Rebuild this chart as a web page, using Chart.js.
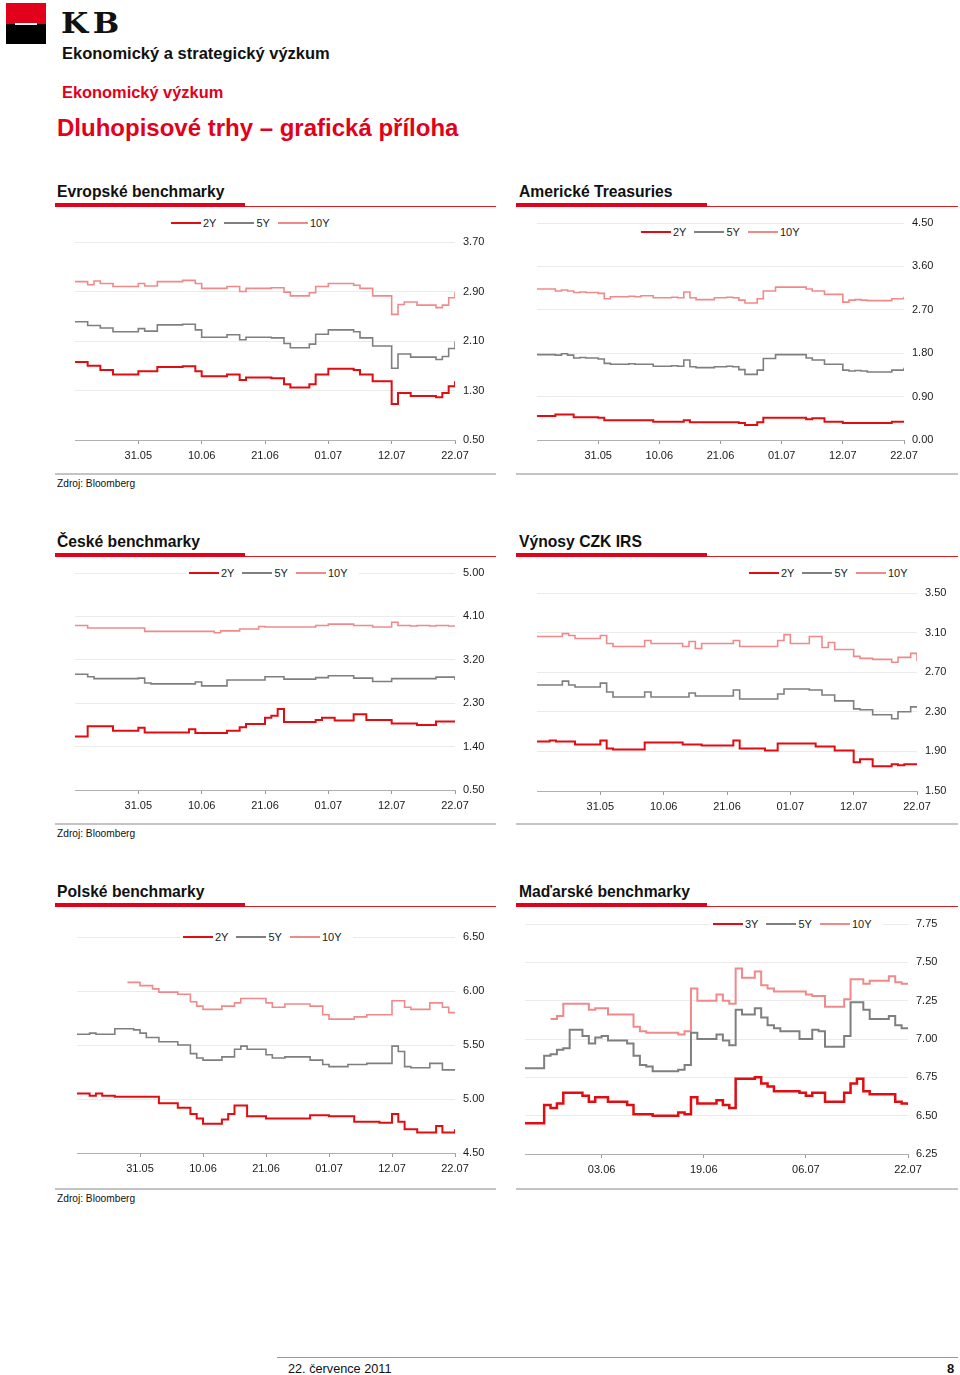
<!DOCTYPE html>
<html>
<head>
<meta charset="utf-8">
<script src="https://cdn.jsdelivr.net/npm/chart.js@4.4.0/dist/chart.umd.min.js"></script>
<style>
  body { margin: 0; width: 960px; height: 1375px; position: relative; background: #fff;
         font-family: "Liberation Sans", Arial, sans-serif; color: #111; overflow: hidden; }
  .abs { position: absolute; line-height: 1; white-space: nowrap; }
  .title { font-size: 15.7px; font-weight: bold; }
  .src { font-size: 10.2px; }
  .bar { position: absolute; }
  canvas { position: absolute; }
  .legend { position: absolute; display: flex; align-items: center; height: 14px; background: #fff;
            padding: 0 3px; font-size: 11px; line-height: 1; color: #222; }
  .legend .sw { display: inline-block; width: 30px; height: 2px; margin-right: 2px; }
  .legend .lt { margin-right: 8px; }
</style>
</head>
<body>

<!-- hlavička -->
<div class="bar" style="left:6px;top:3px;width:40px;height:21px;background:#e2001a"></div>
<div class="bar" style="left:6px;top:24px;width:40px;height:20px;background:#000"></div>
<div class="bar" style="left:15px;top:23px;width:22px;height:2px;background:#fff"></div>
<div class="abs" style="left:61px;top:10px;font-family:'DejaVu Serif',serif;font-weight:bold;font-size:28px;letter-spacing:4px;color:#111;transform:scaleX(1.12);transform-origin:0 0">KB</div>
<div class="abs" style="left:62px;top:45px;font-size:16.5px;font-weight:bold">Ekonomický a strategický výzkum</div>
<div class="abs" style="left:62px;top:84px;font-size:16.4px;font-weight:bold;color:#e2001a">Ekonomický výzkum</div>
<div class="abs" style="left:57px;top:116px;font-size:24px;font-weight:bold;color:#e2001a">Dluhopisové trhy – grafická příloha</div>

<!-- nadpisy panelů -->
<div class="abs title" style="left:57px;top:184px">Evropské benchmarky</div>
<div class="abs title" style="left:519px;top:184px">Americké Treasuries</div>
<div class="abs title" style="left:57px;top:534px">České benchmarky</div>
<div class="abs title" style="left:519px;top:534px">Výnosy CZK IRS</div>
<div class="abs title" style="left:57px;top:884px">Polské benchmarky</div>
<div class="abs title" style="left:519px;top:884px">Maďarské benchmarky</div>

<div class="bar" style="left:55px;top:206px;width:441px;height:1px;background:#d42020"></div>
<div class="bar" style="left:55px;top:203px;width:190px;height:4px;background:#e2001a"></div>
<div class="bar" style="left:516px;top:206px;width:442px;height:1px;background:#d42020"></div>
<div class="bar" style="left:516px;top:203px;width:191px;height:4px;background:#e2001a"></div>

<div class="bar" style="left:55px;top:556px;width:441px;height:1px;background:#d42020"></div>
<div class="bar" style="left:55px;top:553px;width:190px;height:4px;background:#e2001a"></div>
<div class="bar" style="left:516px;top:556px;width:442px;height:1px;background:#d42020"></div>
<div class="bar" style="left:516px;top:553px;width:191px;height:4px;background:#e2001a"></div>

<div class="bar" style="left:55px;top:906px;width:441px;height:1px;background:#d42020"></div>
<div class="bar" style="left:55px;top:903px;width:190px;height:4px;background:#e2001a"></div>
<div class="bar" style="left:516px;top:906px;width:442px;height:1px;background:#d42020"></div>
<div class="bar" style="left:516px;top:903px;width:191px;height:4px;background:#e2001a"></div>

<div class="bar" style="left:55px;top:473px;width:441px;height:2px;background:#c4c4c4"></div>
<div class="bar" style="left:516px;top:473px;width:442px;height:2px;background:#c4c4c4"></div>
<div class="bar" style="left:55px;top:823px;width:441px;height:2px;background:#c4c4c4"></div>
<div class="bar" style="left:516px;top:823px;width:442px;height:2px;background:#c4c4c4"></div>
<div class="bar" style="left:55px;top:1188px;width:441px;height:2px;background:#c4c4c4"></div>
<div class="bar" style="left:516px;top:1188px;width:442px;height:2px;background:#c4c4c4"></div>

<div class="abs src" style="left:57px;top:479px">Zdroj: Bloomberg</div>
<div class="abs src" style="left:57px;top:829px">Zdroj: Bloomberg</div>
<div class="abs src" style="left:57px;top:1194px">Zdroj: Bloomberg</div>

<canvas id="euChart"></canvas>
<canvas id="usChart"></canvas>
<canvas id="czChart"></canvas>
<canvas id="irsChart"></canvas>
<canvas id="plChart"></canvas>
<canvas id="huChart"></canvas>

<!-- patička -->
<div class="bar" style="left:277px;top:1357px;width:681px;height:1px;background:#999"></div>
<div class="abs" style="left:288px;top:1363px;font-size:12.7px">22. července 2011</div>
<div class="abs" style="left:947px;top:1362px;font-size:13px;font-weight:bold">8</div>

<script>
// ---------- data (odečteno z grafů) ----------
const dateLabels = ['31.05', '10.06', '21.06', '01.07', '12.07', '22.07'];
const dateTicks = [10, 20, 30, 40, 50, 60];
const huDateLabels = ['03.06', '19.06', '06.07', '22.07'];
const huDateTicks = [12, 28, 44, 60];

const seriesNames = ['2Y', '5Y', '10Y'];
const huSeriesNames = ['3Y', '5Y', '10Y'];

// Evropské benchmarky
const euYTicks = [0.50, 1.30, 2.10, 2.90, 3.70];
const eu2Y = [1.76,1.76,1.70,1.70,1.63,1.63,1.56,1.56,1.56,1.56,
  1.61,1.61,1.61,1.68,1.68,1.68,1.68,1.69,1.69,1.61,
  1.53,1.53,1.53,1.53,1.56,1.56,1.47,1.51,1.51,1.51,
  1.51,1.50,1.50,1.40,1.35,1.35,1.35,1.40,1.56,1.56,
  1.65,1.65,1.65,1.65,1.63,1.56,1.56,1.45,1.45,1.45,
  1.08,1.26,1.26,1.21,1.21,1.21,1.21,1.19,1.26,1.37,
  1.45];
const eu5Y = [2.41,2.41,2.35,2.35,2.31,2.31,2.25,2.25,2.25,2.25,
  2.30,2.26,2.26,2.36,2.36,2.36,2.36,2.37,2.37,2.28,
  2.16,2.16,2.16,2.16,2.20,2.20,2.12,2.16,2.16,2.16,
  2.16,2.15,2.15,2.06,1.99,1.99,1.99,2.05,2.21,2.21,
  2.28,2.28,2.28,2.28,2.25,2.15,2.15,2.02,2.02,2.02,
  1.66,1.89,1.89,1.84,1.84,1.84,1.84,1.80,1.85,1.98,
  2.09];
const eu10Y = [3.06,3.06,3.01,3.07,3.03,3.03,2.98,2.98,2.98,2.98,
  3.03,2.99,2.99,3.06,3.06,3.06,3.06,3.08,3.08,3.03,
  2.95,2.95,2.95,2.95,2.98,2.98,2.90,2.95,2.95,2.95,
  2.95,2.96,2.96,2.89,2.83,2.83,2.83,2.88,2.98,2.98,
  3.03,3.03,3.03,3.03,3.00,2.95,2.95,2.83,2.83,2.83,
  2.53,2.69,2.73,2.73,2.68,2.68,2.68,2.64,2.68,2.80,
  2.89];

// Americké Treasuries
const usYTicks = [0.00, 0.90, 1.80, 2.70, 3.60, 4.50];
const us2Y = [0.50,0.50,0.50,0.53,0.53,0.53,0.47,0.47,0.47,0.47,
  0.46,0.41,0.41,0.41,0.41,0.41,0.41,0.41,0.41,0.38,
  0.38,0.38,0.38,0.38,0.41,0.37,0.37,0.37,0.37,0.37,
  0.37,0.37,0.37,0.35,0.31,0.31,0.37,0.46,0.46,0.46,
  0.46,0.46,0.46,0.46,0.43,0.45,0.45,0.38,0.38,0.38,
  0.35,0.35,0.35,0.35,0.35,0.35,0.35,0.35,0.38,0.38,
  0.38];
const us5Y = [1.77,1.77,1.77,1.76,1.79,1.76,1.70,1.71,1.70,1.70,
  1.68,1.59,1.57,1.57,1.57,1.58,1.57,1.57,1.57,1.53,
  1.53,1.53,1.54,1.53,1.66,1.52,1.50,1.50,1.50,1.52,
  1.52,1.53,1.52,1.46,1.36,1.36,1.45,1.69,1.69,1.77,
  1.77,1.77,1.77,1.77,1.70,1.66,1.66,1.57,1.57,1.57,
  1.45,1.43,1.44,1.43,1.41,1.41,1.41,1.41,1.45,1.45,
  1.50];
const us10Y = [3.13,3.13,3.13,3.09,3.11,3.09,3.06,3.07,3.06,3.06,
  3.04,2.93,2.97,2.97,2.97,2.98,2.97,2.99,2.99,2.95,
  2.95,2.95,2.96,2.95,3.07,2.95,2.91,2.91,2.91,2.95,
  2.95,2.96,2.95,2.90,2.84,2.84,2.93,3.09,3.09,3.17,
  3.17,3.17,3.17,3.17,3.13,3.09,3.09,3.02,3.02,3.02,
  2.86,2.90,2.91,2.90,2.89,2.89,2.89,2.89,2.93,2.93,
  2.97];

// České benchmarky
const czYTicks = [0.50, 1.40, 2.30, 3.20, 4.10, 5.00];
const cz2Y = [1.61,1.61,1.82,1.82,1.82,1.82,1.73,1.73,1.73,1.73,
  1.79,1.69,1.69,1.69,1.69,1.69,1.69,1.69,1.76,1.68,
  1.68,1.68,1.68,1.68,1.73,1.73,1.80,1.87,1.87,1.87,
  2.00,2.04,2.18,1.91,1.91,1.91,1.91,1.91,1.95,2.00,
  2.00,1.94,1.94,1.94,2.07,2.07,1.95,1.95,1.95,1.95,
  1.88,1.88,1.88,1.88,1.85,1.85,1.85,1.92,1.92,1.92,
  1.92];
const cz5Y = [2.90,2.90,2.85,2.81,2.81,2.81,2.81,2.81,2.81,2.81,
  2.82,2.72,2.70,2.70,2.70,2.70,2.70,2.70,2.70,2.74,
  2.66,2.66,2.66,2.66,2.78,2.78,2.78,2.78,2.78,2.78,
  2.85,2.85,2.85,2.80,2.80,2.80,2.80,2.80,2.83,2.83,
  2.87,2.87,2.87,2.87,2.82,2.82,2.82,2.75,2.75,2.75,
  2.81,2.81,2.81,2.81,2.81,2.81,2.81,2.84,2.84,2.84,
  2.78];
const cz10Y = [3.91,3.91,3.86,3.86,3.86,3.86,3.86,3.86,3.86,3.86,
  3.86,3.79,3.79,3.79,3.79,3.79,3.79,3.79,3.79,3.79,
  3.79,3.79,3.76,3.80,3.80,3.80,3.84,3.84,3.84,3.89,
  3.88,3.88,3.88,3.88,3.88,3.88,3.88,3.88,3.91,3.91,
  3.94,3.94,3.94,3.94,3.91,3.91,3.91,3.88,3.88,3.88,
  3.98,3.91,3.91,3.90,3.91,3.91,3.90,3.91,3.91,3.90,
  3.91];

// Výnosy CZK IRS
const irsYTicks = [1.50, 1.90, 2.30, 2.70, 3.10, 3.50];
const irs2Y = [2.00,2.00,2.01,2.00,2.00,2.00,1.97,1.97,1.97,1.97,
  2.01,1.93,1.92,1.92,1.92,1.92,1.92,1.99,1.99,1.99,
  1.99,1.99,1.99,1.97,1.97,1.97,1.96,1.96,1.96,1.96,
  1.96,2.01,1.93,1.93,1.93,1.93,1.91,1.91,1.98,1.98,
  1.98,1.98,1.98,1.98,1.95,1.95,1.95,1.91,1.91,1.91,
  1.79,1.82,1.82,1.75,1.75,1.75,1.77,1.76,1.77,1.77,
  1.77];
const irs5Y = [2.57,2.57,2.57,2.57,2.61,2.57,2.55,2.55,2.55,2.55,
  2.59,2.50,2.45,2.45,2.45,2.45,2.45,2.50,2.45,2.45,
  2.45,2.45,2.45,2.45,2.49,2.46,2.46,2.46,2.46,2.46,
  2.46,2.52,2.43,2.43,2.43,2.43,2.43,2.43,2.48,2.53,
  2.53,2.53,2.53,2.52,2.52,2.47,2.47,2.41,2.41,2.41,
  2.33,2.32,2.32,2.27,2.27,2.27,2.23,2.30,2.30,2.35,
  2.35];
const irs10Y = [3.06,3.06,3.06,3.06,3.09,3.07,3.04,3.04,3.04,3.04,
  3.07,2.99,2.96,2.96,2.96,2.96,2.96,3.02,2.99,2.99,
  2.99,2.99,2.99,2.96,3.01,2.94,2.99,2.99,2.99,2.99,
  2.99,3.02,2.96,2.96,2.96,2.96,2.96,2.96,3.02,3.08,
  2.99,2.99,2.99,3.06,3.06,2.95,3.00,2.93,2.93,2.93,
  2.86,2.84,2.84,2.83,2.83,2.83,2.80,2.85,2.85,2.89,
  2.81];

// Polské benchmarky
const plYTicks = [4.50, 5.00, 5.50, 6.00, 6.50];
const pl2Y = [5.05,5.05,5.03,5.05,5.03,5.03,5.02,5.02,5.02,5.02,
  5.02,5.02,5.02,4.96,4.96,4.96,4.92,4.92,4.86,4.82,
  4.77,4.77,4.77,4.81,4.86,4.94,4.94,4.84,4.84,4.84,
  4.82,4.82,4.82,4.82,4.82,4.82,4.82,4.85,4.85,4.85,
  4.84,4.84,4.84,4.84,4.79,4.79,4.79,4.79,4.78,4.78,
  4.86,4.79,4.72,4.72,4.69,4.69,4.69,4.75,4.69,4.69,
  4.72];
const pl5Y = [5.60,5.60,5.61,5.60,5.60,5.60,5.65,5.65,5.65,5.64,
  5.61,5.57,5.57,5.53,5.53,5.53,5.50,5.50,5.42,5.38,
  5.36,5.36,5.36,5.39,5.39,5.46,5.49,5.46,5.46,5.46,
  5.41,5.38,5.38,5.39,5.39,5.39,5.39,5.36,5.36,5.32,
  5.30,5.30,5.30,5.32,5.32,5.32,5.33,5.33,5.33,5.33,
  5.49,5.44,5.30,5.29,5.29,5.29,5.33,5.33,5.27,5.27,
  5.27];
const pl10Y = [null,null,null,null,null,null,null,null,6.08,6.08,
  6.05,6.05,6.02,5.99,5.99,5.99,5.97,5.97,5.90,5.86,
  5.83,5.83,5.83,5.86,5.86,5.89,5.93,5.93,5.93,5.93,
  5.89,5.85,5.85,5.88,5.88,5.88,5.88,5.86,5.86,5.78,
  5.74,5.74,5.74,5.74,5.76,5.76,5.78,5.78,5.78,5.78,
  5.91,5.91,5.85,5.83,5.83,5.83,5.89,5.89,5.85,5.80,
  5.80];

// Maďarské benchmarky
const huYTicks = [6.25, 6.50, 6.75, 7.00, 7.25, 7.50, 7.75];
const hu3Y = [6.45,6.45,6.45,6.57,6.55,6.58,6.65,6.65,6.65,6.63,
  6.59,6.62,6.62,6.59,6.59,6.59,6.57,6.51,6.51,6.51,
  6.50,6.50,6.50,6.50,6.52,6.51,6.62,6.58,6.58,6.58,
  6.60,6.57,6.55,6.74,6.74,6.74,6.75,6.71,6.69,6.66,
  6.66,6.66,6.66,6.65,6.63,6.65,6.65,6.59,6.59,6.59,
  6.65,6.71,6.74,6.66,6.64,6.64,6.64,6.64,6.59,6.58,
  6.57];
const hu5Y = [6.81,6.81,6.81,6.89,6.90,6.93,6.94,7.06,7.06,7.02,
  6.97,7.01,7.02,6.99,6.99,6.99,6.97,6.89,6.83,6.82,
  6.79,6.79,6.79,6.79,6.80,6.83,7.04,7.00,7.00,7.00,
  7.03,6.99,6.96,7.19,7.16,7.16,7.20,7.14,7.09,7.07,
  7.05,7.05,7.05,7.00,7.00,7.06,7.05,6.95,6.95,6.95,
  7.02,7.24,7.24,7.19,7.13,7.13,7.13,7.15,7.09,7.07,
  7.07];
const hu10Y = [null,null,null,null,7.13,7.15,7.23,7.23,7.23,7.23,
  7.19,7.20,7.20,7.16,7.16,7.16,7.16,7.08,7.05,7.04,
  7.04,7.04,7.04,7.04,7.03,7.05,7.33,7.25,7.25,7.25,
  7.29,7.25,7.23,7.46,7.40,7.40,7.44,7.35,7.33,7.31,
  7.31,7.31,7.31,7.31,7.29,7.28,7.28,7.21,7.21,7.21,
  7.26,7.39,7.39,7.36,7.38,7.38,7.38,7.41,7.37,7.36,
  7.36];

// ---------- vzhled ----------
const lineColors = ['#e00d12', '#7f7f7f', '#f08a8a'];
const lineWidths = [2, 1.6, 1.6];
const huLineWidths = [2.5, 2, 2];
const Y_AXIS_W = 44;
const X_AXIS_H = 26;
const TOP_PAD = 8;

Chart.defaults.font.family = '"Liberation Sans", Arial, sans-serif';
Chart.defaults.font.size = 11;
Chart.defaults.color = '#1a1a1a';

// HTML legenda
function makeLegend(names, left, centerY) {
    const div = document.createElement('div');
    div.className = 'legend';
    div.style.left = left + 'px';
    div.style.top = (centerY - 7) + 'px';
    div.innerHTML = names.map((n, k) =>
        `<span class="sw" style="background:${lineColors[k]}"></span><span class="lt">${n}</span>`
    ).join('');
    document.body.appendChild(div);
}

// jeden graf: plot = [left, top, width, height] oblasti vykreslení
function renderPanel(id, names, series, yTicks, xTicks, xLabels, plot, legendPos, widths) {
    const canvas = document.getElementById(id);
    const [left, top, w, h] = plot;
    canvas.width = w + Y_AXIS_W;
    canvas.height = h + TOP_PAD + X_AXIS_H;
    canvas.style.left = left + 'px';
    canvas.style.top = (top - TOP_PAD) + 'px';

    const datasets = series.map((vals, k) => ({
        label: names[k],
        data: vals.map((v, i) => ({ x: i, y: v })),
        borderColor: lineColors[k],
        borderWidth: widths[k],
        pointRadius: 0,
        stepped: true,
        spanGaps: false,
        fill: false
    }));

    new Chart(canvas, {
        type: 'line',
        data: { datasets: datasets },
        options: {
            responsive: false,
            animation: false,
            devicePixelRatio: 1,
            layout: { padding: { top: TOP_PAD, left: 0, right: 0, bottom: 0 } },
            plugins: { legend: { display: false }, tooltip: { enabled: false } },
            scales: {
                x: {
                    type: 'linear',
                    min: 0,
                    max: series[0].length - 1,
                    afterBuildTicks: s => { s.ticks = xTicks.map(v => ({ value: v })); },
                    afterFit: s => { s.height = X_AXIS_H; s.paddingLeft = 0; s.paddingRight = 0; },
                    ticks: {
                        padding: 5,
                        maxRotation: 0,
                        autoSkip: false,
                        callback: v => xLabels[xTicks.indexOf(v)]
                    },
                    grid: { drawOnChartArea: false, drawTicks: true, tickLength: 4, color: '#9a9a9a' },
                    border: { display: true, color: '#b0b0b0', width: 1 }
                },
                y: {
                    position: 'right',
                    min: yTicks[0],
                    max: yTicks[yTicks.length - 1],
                    afterBuildTicks: s => { s.ticks = yTicks.map(v => ({ value: v })); },
                    afterFit: s => { s.width = Y_AXIS_W; s.paddingTop = 0; s.paddingBottom = 0; },
                    ticks: { padding: 8, callback: v => v.toFixed(2) },
                    grid: { color: '#ebebeb', drawTicks: false },
                    border: { display: false }
                }
            }
        }
    });

    makeLegend(names, legendPos[0], legendPos[1]);
}

renderPanel('euChart', seriesNames, [eu2Y, eu5Y, eu10Y], euYTicks, dateTicks, dateLabels,
    [75, 242, 380, 198], [168, 223], lineWidths);
renderPanel('usChart', seriesNames, [us2Y, us5Y, us10Y], usYTicks, dateTicks, dateLabels,
    [537, 223, 367, 217], [638, 232], lineWidths);
renderPanel('czChart', seriesNames, [cz2Y, cz5Y, cz10Y], czYTicks, dateTicks, dateLabels,
    [75, 573, 380, 217], [186, 573], lineWidths);
renderPanel('irsChart', seriesNames, [irs2Y, irs5Y, irs10Y], irsYTicks, dateTicks, dateLabels,
    [537, 593, 380, 198], [746, 573], lineWidths);
renderPanel('plChart', seriesNames, [pl2Y, pl5Y, pl10Y], plYTicks, dateTicks, dateLabels,
    [77, 937, 378, 216], [180, 937], lineWidths);
renderPanel('huChart', huSeriesNames, [hu3Y, hu5Y, hu10Y], huYTicks, huDateTicks, huDateLabels,
    [525, 924, 383, 230], [710, 924], huLineWidths);
</script>
</body>
</html>
